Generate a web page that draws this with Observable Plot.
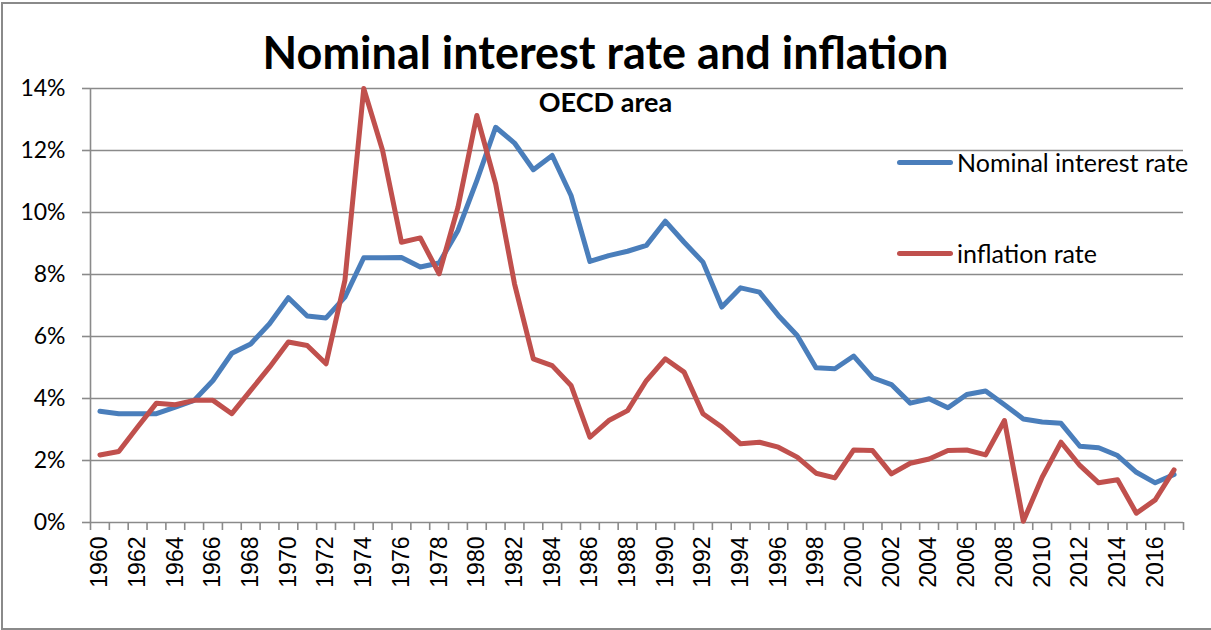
<!DOCTYPE html>
<html>
<head>
<meta charset="utf-8">
<script src="https://cdn.jsdelivr.net/npm/d3@7"></script>
<script src="https://cdn.jsdelivr.net/npm/@observablehq/plot@0.6"></script>
<style>
  html, body { margin: 0; padding: 0; background: #fff; }
  #wrap { position: relative; width: 1211px; height: 630px; overflow: hidden; }
  #border { position: absolute; left: 1px; top: 2px; width: 1260px; height: 624px; border: 2px solid #8a8a8a; box-sizing: content-box; pointer-events: none; }
  #title { position: absolute; left: 0; width: 1211px; top: 30px; text-align: center; font-family: Lato, sans-serif; font-weight: 700; font-size: 45px; line-height: 1; color: #000; }
  #subtitle { position: absolute; left: 0; width: 1211px; top: 88px; text-align: center; font-family: Lato, sans-serif; font-weight: 700; font-size: 27px; line-height: 1; color: #000; }
  .leg { position: absolute; left: 897px; height: 24px; display: flex; align-items: center; font-family: Lato, sans-serif; font-size: 25px; color: #000; white-space: nowrap; }
  .leg .sw { width: 56px; height: 5px; border-radius: 3px; margin-right: 4px; flex: none; }
</style>
</head>
<body>
<div id="wrap">
  <div id="chart"></div>
  <div id="border"></div>
  <div id="title"></div>
  <div id="subtitle"></div>
  <div id="legend"></div>
</div>
<script>
const titleText = "Nominal interest rate and inflation";
const subtitleText = "OECD area";
const years = d3.range(1960, 2018);
const seriesNames = ["Nominal interest rate", "inflation rate"];
const seriesColors = ["#4a7ebb", "#c0504d"];
const nominalRate = [
  3.59, 3.51, 3.51, 3.51, 3.72, 3.94, 4.58, 5.46, 5.76, 6.41,
  7.25, 6.66, 6.60, 7.27, 8.54, 8.54, 8.55, 8.24, 8.37, 9.42,
  11.03, 12.75, 12.24, 11.38, 11.84, 10.55, 8.42, 8.61, 8.75, 8.94,
  9.72, 9.04, 8.40, 6.95, 7.57, 7.43, 6.68, 6.03, 4.99, 4.96,
  5.37, 4.67, 4.45, 3.85, 3.99, 3.70, 4.13, 4.24, 3.80, 3.34,
  3.24, 3.20, 2.46, 2.41, 2.16, 1.62, 1.28, 1.55
];
const inflationRate = [
  2.18, 2.29, 3.08, 3.85, 3.80, 3.94, 3.94, 3.51, 4.26, 5.01,
  5.82, 5.71, 5.12, 7.81, 14.0, 12.0, 9.04, 9.18, 8.02, 10.17,
  13.13, 10.92, 7.70, 5.28, 5.06, 4.42, 2.75, 3.29, 3.61, 4.58,
  5.28, 4.85, 3.51, 3.08, 2.54, 2.59, 2.43, 2.11, 1.59, 1.44,
  2.34, 2.32, 1.57, 1.91, 2.05, 2.32, 2.34, 2.18, 3.29, 0.04,
  1.46, 2.59, 1.84, 1.28, 1.38, 0.30, 0.73, 1.70
];
const yTicks = [0, 2, 4, 6, 8, 10, 12, 14];
const xLabelYears = years.filter(y => y % 2 === 0);
const xBoundaries = d3.range(1959.5, 2018, 1);
const xDomain = [1959.5, 2017.5];

const nominalData = years.map((year, i) => ({year, value: nominalRate[i]}));
const inflationData = years.map((year, i) => ({year, value: inflationRate[i]}));

const grey = "#8a8a8a";

const chart = Plot.plot({
  width: 1211,
  height: 630,
  marginLeft: 90,
  marginRight: 28,
  marginTop: 88,
  marginBottom: 108,
  style: { background: "transparent", overflow: "visible" },
  x: { type: "linear", domain: xDomain },
  y: { domain: [0, 14] },
  marks: [
    Plot.gridY(yTicks, { stroke: grey, strokeOpacity: 1, strokeWidth: 1.6 }),
    Plot.ruleX([xDomain[0]], { stroke: grey, strokeWidth: 1.6 }),
    Plot.axisY(yTicks, {
      tickFormat: d => d + "%", tickSize: 8, tickPadding: 17,
      stroke: grey, strokeWidth: 1.6, fontSize: 23, fontFamily: "Lato, sans-serif",
      color: "#000", label: null
    }),
    Plot.axisX(xBoundaries, {
      tickFormat: () => "", tickSize: 8, stroke: grey, strokeWidth: 1.6, label: null
    }),
    Plot.axisX(xLabelYears, {
      tickFormat: d => String(d), tickSize: 0, tickPadding: 14, tickRotate: -90,
      fontSize: 23, fontFamily: "'Liberation Sans', Arial, sans-serif", label: null
    }),
    Plot.lineY(nominalData, {
      x: "year", y: "value", stroke: seriesColors[0], strokeWidth: 5,
      strokeLinejoin: "round", strokeLinecap: "round"
    }),
    Plot.lineY(inflationData, {
      x: "year", y: "value", stroke: seriesColors[1], strokeWidth: 5,
      strokeLinejoin: "round", strokeLinecap: "round"
    })
  ]
});
document.getElementById("chart").appendChild(chart);
d3.select(chart).selectAll("text")
  .filter(function () { return /^\d{4}$/.test(this.textContent); })
  .style("font-size", "23px")
  .style("font-family", "'Liberation Sans', Arial, sans-serif");
document.getElementById("title").textContent = titleText;
document.getElementById("subtitle").textContent = subtitleText;

const legendTops = [150, 241];
const legend = document.getElementById("legend");
seriesNames.forEach((name, i) => {
  const row = document.createElement("div");
  row.className = "leg";
  row.style.top = legendTops[i] + "px";
  const sw = document.createElement("span");
  sw.className = "sw";
  sw.style.background = seriesColors[i];
  const t = document.createElement("span");
  t.textContent = name;
  row.appendChild(sw);
  row.appendChild(t);
  legend.appendChild(row);
});
</script>
</body>
</html>
